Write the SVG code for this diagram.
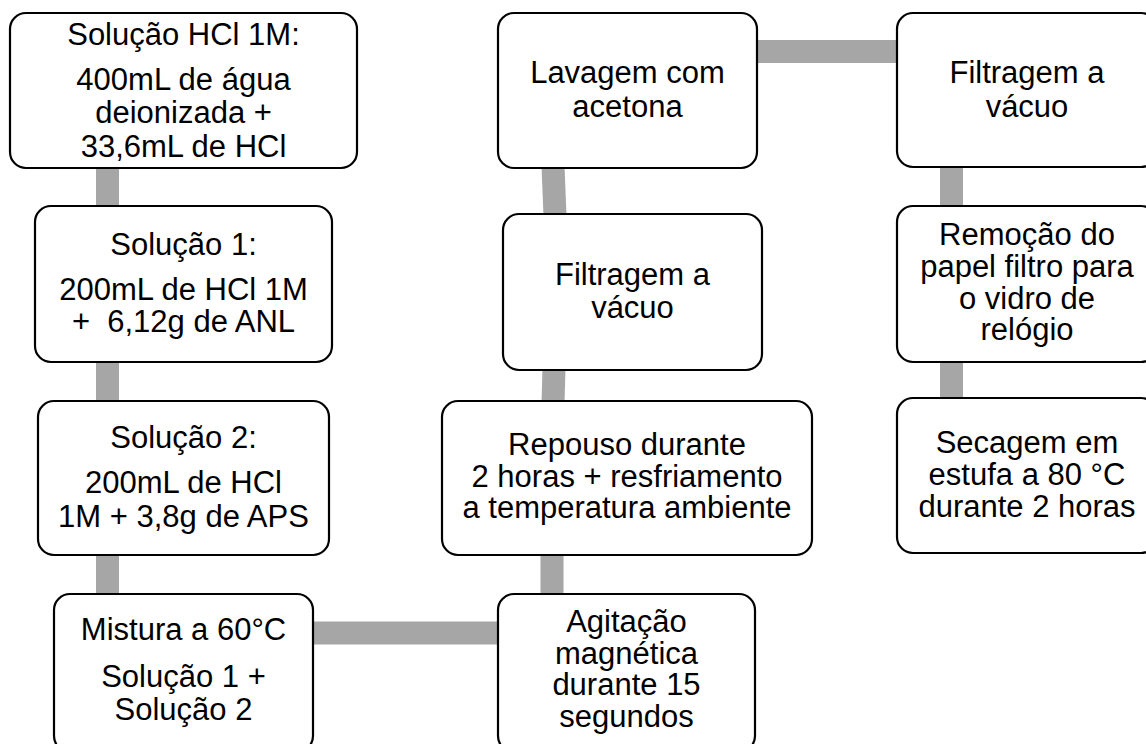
<svg xmlns="http://www.w3.org/2000/svg" width="1146" height="744" viewBox="0 0 1146 744">
  <style>
    .box { fill: #ffffff; stroke: #000000; stroke-width: 2.2; }
    .link { stroke: #a6a6a6; stroke-width: 23; fill: none; }
    .lbl { font-family: "Liberation Sans", Arial, sans-serif; font-size: 31px; fill: #000000; text-anchor: middle; }
  </style>
  <rect width="1146" height="744" fill="#ffffff"/>

  <!-- connectors between process steps -->
  <g id="connectors">
    <line class="link" x1="107.5" y1="166" x2="107.5" y2="208"/>
    <line class="link" x1="107.5" y1="360" x2="107.5" y2="403"/>
    <line class="link" x1="107.5" y1="553" x2="107.5" y2="596"/>
    <line class="link" x1="311" y1="633" x2="500" y2="633"/>
    <line class="link" x1="552" y1="553" x2="552" y2="596"/>
    <line class="link" x1="554" y1="368" x2="553" y2="403"/>
    <line class="link" x1="553" y1="166" x2="555" y2="216"/>
    <line class="link" x1="755" y1="51.5" x2="899" y2="51.5"/>
    <line class="link" x1="951.5" y1="165" x2="951.5" y2="208"/>
    <line class="link" x1="951.5" y1="360" x2="951.5" y2="400"/>
  </g>

  <g id="solucao-hcl">
    <rect class="box" x="10" y="13" width="347" height="155" rx="16"/>
    <text class="lbl" x="183.5" y="45">Solução HCl 1M:</text>
    <text class="lbl" x="183.5" y="90">400mL de água</text>
    <text class="lbl" x="183.5" y="123">deionizada +</text>
    <text class="lbl" x="183.5" y="157">33,6mL de HCl</text>
  </g>

  <g id="solucao-1">
    <rect class="box" x="35" y="206" width="297" height="156" rx="16"/>
    <text class="lbl" x="183.5" y="255">Solução 1:</text>
    <text class="lbl" x="183.5" y="300">200mL de HCl 1M</text>
    <text class="lbl" x="183.5" y="332" xml:space="preserve">+  6,12g de ANL</text>
  </g>

  <g id="solucao-2">
    <rect class="box" x="38" y="401" width="291" height="154" rx="16"/>
    <text class="lbl" x="183.5" y="448">Solução 2:</text>
    <text class="lbl" x="183.5" y="493">200mL de HCl</text>
    <text class="lbl" x="183.5" y="527">1M + 3,8g de APS</text>
  </g>

  <g id="mistura">
    <rect class="box" x="54" y="594" width="259" height="158" rx="16"/>
    <text class="lbl" x="183.5" y="640">Mistura a 60°C</text>
    <text class="lbl" x="183.5" y="687">Solução 1 +</text>
    <text class="lbl" x="183.5" y="720">Solução 2</text>
  </g>

  <g id="agitacao">
    <rect class="box" x="498" y="594" width="257" height="158" rx="16"/>
    <text class="lbl" x="626.5" y="632">Agitação</text>
    <text class="lbl" x="626.5" y="664">magnética</text>
    <text class="lbl" x="626.5" y="695">durante 15</text>
    <text class="lbl" x="626.5" y="727">segundos</text>
  </g>

  <g id="repouso">
    <rect class="box" x="442" y="401" width="370" height="154" rx="16"/>
    <text class="lbl" x="627" y="455">Repouso durante</text>
    <text class="lbl" x="627" y="487">2 horas + resfriamento</text>
    <text class="lbl" x="627" y="518">a temperatura ambiente</text>
  </g>

  <g id="filtragem-1">
    <rect class="box" x="503" y="214" width="259" height="156" rx="16"/>
    <text class="lbl" x="632.5" y="285">Filtragem a</text>
    <text class="lbl" x="632.5" y="318">vácuo</text>
  </g>

  <g id="lavagem">
    <rect class="box" x="498" y="13" width="259" height="155" rx="16"/>
    <text class="lbl" x="627.5" y="83">Lavagem com</text>
    <text class="lbl" x="627.5" y="117">acetona</text>
  </g>

  <g id="filtragem-2">
    <rect class="box" x="897" y="13" width="260" height="154" rx="16"/>
    <text class="lbl" x="1027" y="83">Filtragem a</text>
    <text class="lbl" x="1027" y="117">vácuo</text>
  </g>

  <g id="remocao">
    <rect class="box" x="897" y="206" width="260" height="156" rx="16"/>
    <text class="lbl" x="1027" y="245">Remoção do</text>
    <text class="lbl" x="1027" y="277">papel filtro para</text>
    <text class="lbl" x="1027" y="309">o vidro de</text>
    <text class="lbl" x="1027" y="340">relógio</text>
  </g>

  <g id="secagem">
    <rect class="box" x="897" y="398" width="260" height="155" rx="16"/>
    <text class="lbl" x="1027" y="453">Secagem em</text>
    <text class="lbl" x="1027" y="485">estufa a 80 °C</text>
    <text class="lbl" x="1027" y="517">durante 2 horas</text>
  </g>
</svg>
